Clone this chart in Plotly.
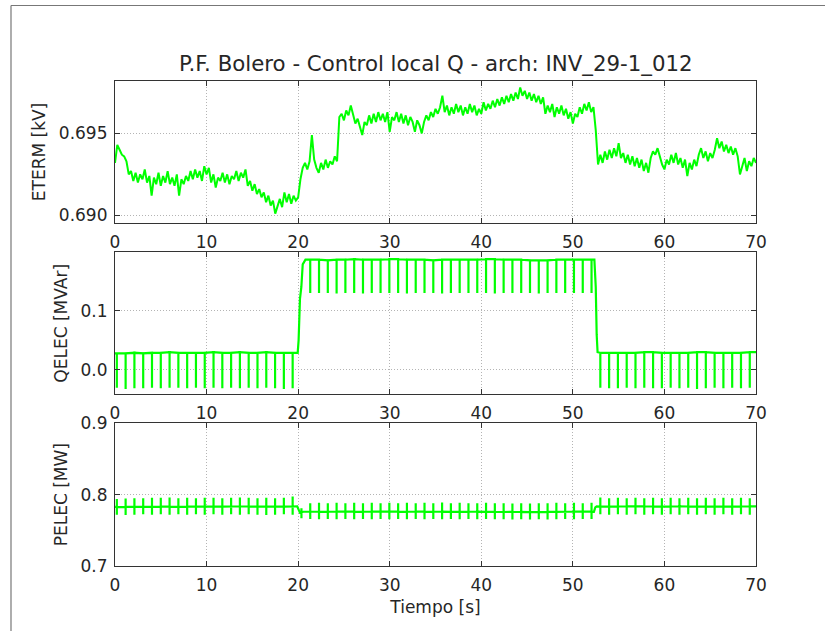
import numpy as np
import plotly.graph_objects as go
from plotly.subplots import make_subplots

TITLE = "P.F. Bolero - Control local Q - arch: INV_29-1_012"
Y_TITLES = ["ETERM [kV]", "QELEC [MVAr]", "PELEC [MW]"]
X_TITLE = "Tiempo [s]"

# ETERM sampled every 0.25 s from 0 to 70 s
ETERM_STEP = 0.25
eterm_kv = [
    0.6932, 0.6943, 0.6940, 0.6937, 0.6936, 0.6933, 0.6925, 0.6927, 0.6921, 0.6926,
    0.6920, 0.6925, 0.6922, 0.6928, 0.6920, 0.6924, 0.6912, 0.6923, 0.6919, 0.6926,
    0.6918, 0.6924, 0.6920, 0.6927, 0.6919, 0.6923, 0.6918, 0.6925, 0.6912, 0.6922,
    0.6919, 0.6924, 0.6921, 0.6927, 0.6922, 0.6928, 0.6923, 0.6927, 0.6921, 0.6930,
    0.6925, 0.6929, 0.6920, 0.6925, 0.6917, 0.6923, 0.6921, 0.6926, 0.6920, 0.6925,
    0.6919, 0.6924, 0.6922, 0.6927, 0.6921, 0.6926, 0.6923, 0.6928, 0.6918, 0.6921,
    0.6915, 0.6919, 0.6913, 0.6916, 0.6911, 0.6914, 0.6908, 0.6912, 0.6906, 0.6909,
    0.6901, 0.6906, 0.6910, 0.6905, 0.6914, 0.6908, 0.6913, 0.6907, 0.6912, 0.6909,
    0.6911, 0.6922, 0.6929, 0.6932, 0.6928, 0.6933, 0.6949, 0.6934, 0.6929, 0.6926,
    0.6932, 0.6928, 0.6934, 0.6929, 0.6933, 0.6931, 0.6936, 0.6933, 0.6960, 0.6962,
    0.6958, 0.6964, 0.6961, 0.6967, 0.6962, 0.6956, 0.6959, 0.6953, 0.6949, 0.6957,
    0.6955, 0.6961, 0.6956, 0.6962, 0.6957, 0.6963, 0.6958, 0.6962, 0.6957, 0.6963,
    0.6951, 0.6960, 0.6958, 0.6963, 0.6957, 0.6962, 0.6956, 0.6961, 0.6955, 0.6960,
    0.6957, 0.6951, 0.6958, 0.6955, 0.6950, 0.6957, 0.6961, 0.6958, 0.6963, 0.6960,
    0.6965, 0.6962, 0.6966, 0.6973, 0.6963, 0.6967, 0.6961, 0.6966, 0.6962, 0.6968,
    0.6963, 0.6967, 0.6961, 0.6966, 0.6962, 0.6968, 0.6963, 0.6967, 0.6961, 0.6965,
    0.6962, 0.6969, 0.6964, 0.6968, 0.6965, 0.6970, 0.6966, 0.6971, 0.6967, 0.6972,
    0.6968, 0.6973, 0.6969, 0.6974, 0.6970, 0.6975, 0.6971, 0.6978, 0.6973, 0.6976,
    0.6971, 0.6975, 0.6970, 0.6974, 0.6969, 0.6973, 0.6968, 0.6972, 0.6962, 0.6967,
    0.6963, 0.6968, 0.6960, 0.6966, 0.6962, 0.6967, 0.6961, 0.6965, 0.6959, 0.6963,
    0.6956, 0.6962, 0.6960, 0.6966, 0.6962, 0.6968, 0.6964, 0.6969, 0.6963, 0.6966,
    0.6952, 0.6931, 0.6937, 0.6932, 0.6939, 0.6934, 0.6940, 0.6935, 0.6941, 0.6936,
    0.6944, 0.6935, 0.6938, 0.6932, 0.6937, 0.6931, 0.6936, 0.6930, 0.6935, 0.6929,
    0.6934, 0.6927, 0.6932, 0.6926, 0.6935, 0.6939, 0.6937, 0.6941, 0.6936, 0.6931,
    0.6928, 0.6934, 0.6931, 0.6937, 0.6932, 0.6938, 0.6931, 0.6935, 0.6929, 0.6934,
    0.6924, 0.6932, 0.6928, 0.6934, 0.6930, 0.6937, 0.6941, 0.6935, 0.6939, 0.6933,
    0.6938, 0.6935, 0.6940, 0.6947, 0.6941, 0.6945, 0.6939, 0.6943, 0.6938, 0.6942,
    0.6937, 0.6941, 0.6936, 0.6925, 0.6930, 0.6935, 0.6927, 0.6933, 0.6930, 0.6935,
    0.6932,
]

# periodic spike instants (s)
spike_t = [0.20, 1.16, 2.12, 3.08, 4.04, 5.00, 5.96, 6.92, 7.88, 8.84, 9.80,
           10.76, 11.72, 12.68, 13.64, 14.60, 15.56, 16.52, 17.48, 18.44, 19.40,
           20.36,
           21.32, 22.28, 23.24, 24.20, 25.16, 26.12, 27.08, 28.04, 29.00, 29.96, 30.92,
           31.88, 32.84, 33.80, 34.76, 35.72, 36.68, 37.64, 38.60, 39.56, 40.52, 41.48,
           42.44, 43.40, 44.36, 45.32, 46.28, 47.24, 48.20, 49.16, 50.12, 51.08, 52.04,
           53.00, 53.96, 54.92, 55.88, 56.84, 57.80, 58.76, 59.72, 60.68, 61.64, 62.60,
           63.56, 64.52, 65.48, 66.44, 67.40, 68.36, 69.32]

# QELEC level at each spike and spike minimum (MVAr)
q_level = [0.028, 0.028, 0.029, 0.028, 0.029, 0.029, 0.030, 0.029, 0.029, 0.029, 0.029,
           0.030, 0.029, 0.029, 0.030, 0.029, 0.029, 0.030, 0.029, 0.029, 0.029,
           None,
           0.186, 0.186, 0.185, 0.186, 0.186, 0.187, 0.186, 0.186, 0.186, 0.187, 0.187,
           0.186, 0.186, 0.186, 0.185, 0.186, 0.186, 0.186, 0.186, 0.186, 0.187, 0.187,
           0.186, 0.186, 0.186, 0.185, 0.185, 0.185, 0.186, 0.186, 0.186, 0.186, 0.186,
           0.029, 0.029, 0.029, 0.029, 0.029, 0.030, 0.030, 0.029, 0.029, 0.029, 0.029,
           0.030, 0.030, 0.029, 0.029, 0.029, 0.029, 0.030]
q_lo = [-0.030, -0.032, -0.031, -0.031, -0.030, -0.031, -0.030, -0.030, -0.031, -0.030, -0.031,
        -0.030, -0.031, -0.030, -0.031, -0.030, -0.031, -0.030, -0.031, -0.032, -0.031,
        None,
        0.130, 0.130, 0.130, 0.129, 0.130, 0.130, 0.129, 0.130, 0.130, 0.130, 0.130,
        0.129, 0.130, 0.130, 0.130, 0.129, 0.130, 0.130, 0.130, 0.130, 0.130, 0.129,
        0.130, 0.130, 0.130, 0.130, 0.129, 0.130, 0.130, 0.130, 0.130, 0.130, 0.130,
        -0.030, -0.031, -0.031, -0.030, -0.031, -0.030, -0.031, -0.031, -0.030, -0.031, -0.030,
        -0.032, -0.031, -0.030, -0.031, -0.030, -0.031, -0.030]
# QELEC transition points (s, MVAr)
q_step_t = [0.0, 19.95, 20.05, 20.2, 20.35, 20.5, 20.8, 52.35, 52.5, 52.6, 52.7, 70.0]
q_step_v = [0.028, 0.029, 0.05, 0.12, 0.14, 0.178, 0.186, 0.186, 0.14, 0.06, 0.030, 0.030]

# PELEC level at each spike, spike top and bottom (MW)
p_level = [0.7825, 0.7828, 0.7830, 0.7828, 0.7830, 0.7832, 0.7833, 0.7830, 0.7831, 0.7832, 0.7833,
           0.7833, 0.7832, 0.7834, 0.7835, 0.7834, 0.7833, 0.7833, 0.7832, 0.7833, 0.7834,
           0.7750,
           0.7760, 0.7762, 0.7760, 0.7762, 0.7763, 0.7762, 0.7760, 0.7761, 0.7762, 0.7763, 0.7762,
           0.7760, 0.7761, 0.7762, 0.7760, 0.7761, 0.7760, 0.7758, 0.7760, 0.7761, 0.7760, 0.7758,
           0.7757, 0.7758, 0.7757, 0.7755, 0.7756, 0.7758, 0.7759, 0.7760, 0.7761, 0.7762, 0.7763,
           0.7832, 0.7833, 0.7834, 0.7835, 0.7836, 0.7835, 0.7834, 0.7833, 0.7834, 0.7835, 0.7834,
           0.7833, 0.7834, 0.7833, 0.7832, 0.7833, 0.7834, 0.7835]
p_hi = [0.7940, 0.7945, 0.7950, 0.7950, 0.7955, 0.7955, 0.7960, 0.7950, 0.7955, 0.7950, 0.7955,
        0.7955, 0.7950, 0.7955, 0.7960, 0.7955, 0.7950, 0.7955, 0.7950, 0.7955, 0.7975,
        0.7810,
        0.7880, 0.7885, 0.7880, 0.7885, 0.7880, 0.7885, 0.7880, 0.7885, 0.7880, 0.7885, 0.7880,
        0.7885, 0.7880, 0.7885, 0.7880, 0.7890, 0.7880, 0.7885, 0.7880, 0.7880, 0.7885, 0.7880,
        0.7880, 0.7875, 0.7880, 0.7875, 0.7880, 0.7880, 0.7885, 0.7880, 0.7885, 0.7880, 0.7885,
        0.7960, 0.7950, 0.7955, 0.7950, 0.7955, 0.7950, 0.7955, 0.7950, 0.7955, 0.7950, 0.7955,
        0.7950, 0.7955, 0.7950, 0.7955, 0.7950, 0.7955, 0.7950]
p_lo = [0.7720, 0.7715, 0.7720, 0.7725, 0.7720, 0.7725, 0.7720, 0.7725, 0.7720, 0.7725, 0.7720,
        0.7725, 0.7720, 0.7725, 0.7720, 0.7725, 0.7720, 0.7715, 0.7720, 0.7725, 0.7720,
        0.7670,
        0.7660, 0.7655, 0.7660, 0.7655, 0.7660, 0.7655, 0.7660, 0.7655, 0.7660, 0.7655, 0.7660,
        0.7655, 0.7660, 0.7655, 0.7660, 0.7655, 0.7660, 0.7655, 0.7660, 0.7655, 0.7660, 0.7655,
        0.7655, 0.7650, 0.7655, 0.7650, 0.7655, 0.7650, 0.7655, 0.7660, 0.7655, 0.7660, 0.7660,
        0.7725, 0.7720, 0.7725, 0.7720, 0.7725, 0.7720, 0.7725, 0.7720, 0.7725, 0.7720, 0.7725,
        0.7720, 0.7725, 0.7720, 0.7725, 0.7720, 0.7725, 0.7720]
# PELEC transition points (s, MW)
p_step_t = [0.0, 19.9, 20.05, 20.2, 20.55, 52.3, 52.45, 52.6, 70.0]
p_step_v = [0.7830, 0.7835, 0.7790, 0.7745, 0.7760, 0.7760, 0.7820, 0.7835, 0.7835]


def build(step_t, step_v, spikes):
    chunks = [(t, [(t, v)]) for t, v in zip(step_t, step_v)]
    for t, pts in spikes:
        chunks.append((t, pts))
    chunks.sort(key=lambda c: c[0])
    xs, ys = [], []
    for _, pts in chunks:
        for x, y in pts:
            xs.append(x)
            ys.append(y)
    return xs, ys


q_spikes = [(t, [(t, l), (t, lo), (t, l)]) for t, l, lo in zip(spike_t, q_level, q_lo) if lo is not None]
p_spikes = [(t, [(t, l), (t, h), (t, lo), (t, l)]) for t, l, h, lo in zip(spike_t, p_level, p_hi, p_lo)]
qx, qy = build(q_step_t, q_step_v, q_spikes)
px, py = build(p_step_t, p_step_v, p_spikes)
ex = np.arange(len(eterm_kv)) * ETERM_STEP

GREEN = "#00ff00"
FONT = "DejaVu Sans"
TXT = "#262626"
TICK_SIZE = 17
LABEL_SIZE = 17
TITLE_SIZE = 21.3

fig = make_subplots(rows=3, cols=1)
fig.add_trace(go.Scatter(x=ex, y=eterm_kv, mode="lines", line=dict(color=GREEN, width=2)), row=1, col=1)
fig.add_trace(go.Scatter(x=qx, y=qy, mode="lines", line=dict(color=GREEN, width=2.2)), row=2, col=1)
fig.add_trace(go.Scatter(x=px, y=py, mode="lines", line=dict(color=GREEN, width=2.2)), row=3, col=1)

W, H = 825, 631
ML, MR, MT, MB = 115, 69, 81, 65
PW, PH = W - ML - MR, H - MT - MB


def py_frac(y_px):
    return (H - MB - y_px) / PH


def px_frac(x_px):
    return (x_px - ML) / PW


domains = [(py_frac(223), py_frac(81)), (py_frac(394.3), py_frac(252.3)), (py_frac(566), py_frac(423.3))]
yranges = [[0.68953, 0.69820], [-0.041, 0.1985], [0.7, 0.9]]
ydticks = [0.005, 0.1, 0.1]
yfmts = [".3f", ".1f", ".1f"]

axis_common = dict(
    showline=True, linecolor="#333333", linewidth=1.2, mirror="ticks",
    ticks="inside", ticklen=5, tickwidth=1, tickcolor="#333333",
    showgrid=True, gridcolor="#b4b4b4", griddash="1px,2px", gridwidth=1,
    zeroline=False, tickfont=dict(family=FONT, size=TICK_SIZE, color=TXT),
)

for i in range(3):
    n = "" if i == 0 else str(i + 1)
    fig.layout["xaxis" + n].update(
        domain=[0, 1], range=[0, 70], dtick=10, tick0=0, anchor="y" + n,
        showticklabels=True, ticklabelstandoff=3, **axis_common)
    fig.layout["yaxis" + n].update(
        domain=list(domains[i]), range=yranges[i], dtick=ydticks[i], tick0=0,
        tickformat=yfmts[i], anchor="x" + n, ticklabelstandoff=3,
        title=dict(text=Y_TITLES[i], font=dict(family=FONT, size=LABEL_SIZE, color=TXT), standoff=8),
        **axis_common)

fig.layout.xaxis3.title = dict(text=X_TITLE, font=dict(family=FONT, size=LABEL_SIZE, color=TXT), standoff=7)

fig.add_annotation(text=TITLE, xref="paper", yref="paper", x=0.5, y=py_frac(64),
                   xanchor="center", yanchor="middle", showarrow=False,
                   font=dict(family=FONT, size=TITLE_SIZE, color=TXT))

# outer frame of the original screenshot
fig.add_shape(type="line", xref="paper", yref="paper",
              x0=px_frac(11), x1=px_frac(840), y0=py_frac(5.5), y1=py_frac(5.5),
              line=dict(color="#777777", width=1.2))
fig.add_shape(type="line", xref="paper", yref="paper",
              x0=px_frac(11), x1=px_frac(11), y0=py_frac(5.5), y1=py_frac(650),
              line=dict(color="#777777", width=1.2))

fig.update_layout(
    width=W, height=H, showlegend=False,
    margin=dict(l=ML, r=MR, t=MT, b=MB),
    paper_bgcolor="white", plot_bgcolor="white",
    font=dict(family=FONT, color=TXT),
)

fig.write_html("out.html")
